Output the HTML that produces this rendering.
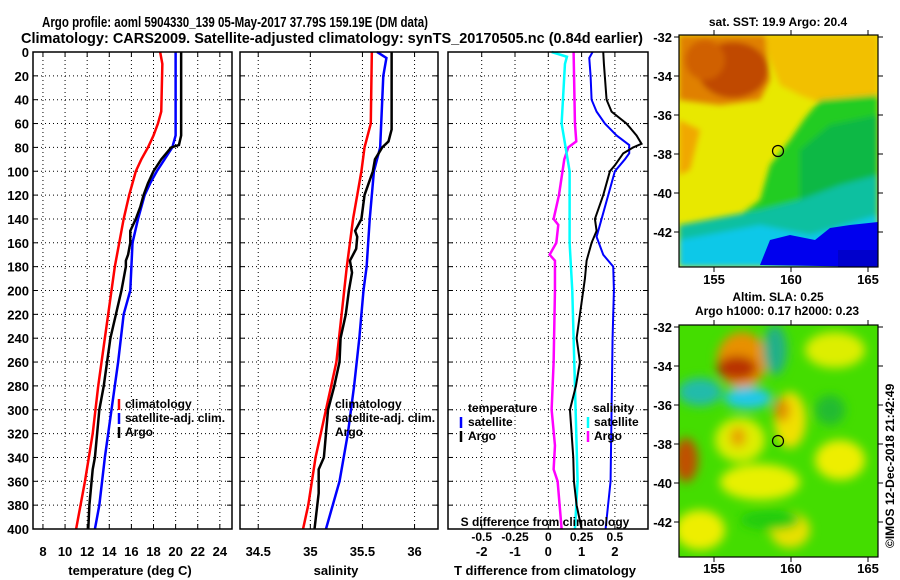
<!DOCTYPE html>
<html><head><meta charset="utf-8"><title>Argo profile</title>
<style>
html,body{margin:0;padding:0;background:#fff;}
svg{display:block;font-family:"Liberation Sans",sans-serif;}
text{font-weight:bold;}
</style></head>
<body>
<svg id="chart" width="900" height="580" viewBox="0 0 900 580" xmlns="http://www.w3.org/2000/svg">
<text x="42" y="27" font-size="15" textLength="386" lengthAdjust="spacingAndGlyphs">Argo profile: aoml 5904330_139 05-May-2017 37.79S 159.19E (DM data)</text>
<text x="21" y="43" font-size="15" textLength="622" lengthAdjust="spacingAndGlyphs">Climatology: CARS2009. Satellite-adjusted climatology: synTS_20170505.nc (0.84d earlier)</text>
<g id="plots"></g>
</svg>
<script>
// ---- data (depth in m) ----
const depthTC=[0,10,50,60,70,80,90,100,120,140,160,180,200,240,280,320,360,400];
const tempClim=[18.6,18.8,18.7,18.4,18.0,17.5,16.9,16.4,15.8,15.3,14.9,14.5,14.2,13.6,13.0,12.5,11.8,11.0];
const depthTS=[0,70,80,90,100,110,120,140,160,180,200,220,260,300,340,380,400];
const tempSat=[20.0,20.0,19.7,19.0,18.3,17.7,17.2,16.6,16.1,16.0,15.9,15.3,14.8,14.2,13.6,13.1,12.7];
const depthTA=[0,70,78,80,90,100,110,120,130,140,150,160,170,175,180,190,200,220,240,260,280,300,320,340,350,360,380,400];
const tempArgo=[20.5,20.5,20.3,19.6,18.7,18.0,17.5,17.1,16.8,16.4,15.9,15.9,15.7,15.5,15.5,15.3,15.1,14.6,14.1,13.8,13.5,13.1,12.9,12.7,12.5,12.4,12.2,12.1];
const depthSC=[0,60,80,100,140,180,220,260,300,340,380,400];
const salClim=[35.59,35.58,35.52,35.49,35.41,35.35,35.30,35.25,35.15,35.05,34.98,34.93];
const depthSS=[0,5,20,60,80,90,100,140,180,200,240,280,320,360,400];
const salSat=[35.64,35.73,35.70,35.68,35.67,35.64,35.61,35.57,35.54,35.51,35.47,35.42,35.36,35.28,35.15];
const depthSA=[0,65,75,80,90,100,120,140,150,155,165,175,185,200,220,240,260,280,300,320,340,350,370,400];
const salArgo=[35.78,35.78,35.75,35.69,35.62,35.60,35.52,35.49,35.43,35.45,35.44,35.38,35.40,35.37,35.34,35.29,35.28,35.23,35.17,35.15,35.13,35.08,35.08,35.04];
const depthDT=[0,5,20,40,50,60,70,78,85,90,100,110,120,140,155,170,180,200,240,300,360,400];
const tDiffSat=[1.33,1.23,1.27,1.30,1.45,1.7,2.05,2.43,2.43,2.3,2.0,1.9,1.8,1.6,1.45,1.65,1.95,1.97,1.93,1.9,1.87,1.72];
const depthDA=[0,10,40,50,60,70,77,80,85,95,100,110,120,140,150,160,175,190,200,220,240,260,280,300,320,340,360,380,400];
const tDiffArgo=[1.65,1.67,1.75,1.9,2.35,2.65,2.8,2.55,2.25,2.0,1.85,1.75,1.65,1.4,1.45,1.3,1.15,1.1,1.05,0.95,0.85,0.95,0.83,0.65,0.7,0.75,0.77,0.85,1.0];
const depthDSS=[0,4,10,40,60,80,100,120,160,200,240,280,320,360,400];
const sDiffSat=[0.025,0.14,0.125,0.11,0.10,0.13,0.16,0.16,0.16,0.18,0.19,0.2,0.21,0.22,0.2];
const depthDSA=[0,60,75,80,90,120,140,145,160,170,175,200,260,300,330,350,360,400];
const sDiffArgo=[0.19,0.2,0.21,0.15,0.12,0.08,0.04,0.075,0.06,0.01,0.05,0.05,0.04,0.025,0.05,0.04,0.07,0.10];
const depthTicks=[0,20,40,60,80,100,120,140,160,180,200,220,240,260,280,300,320,340,360,380,400];
const tempTicks=[8,10,12,14,16,18,20,22,24];
const salTicks=[34.5,35,35.5,36];
const tDiffTicks=[-2,-1,0,1,2];
const sDiffTicks=[-0.5,-0.25,0,0.25,0.5];
const latTicks=[-32,-34,-36,-38,-40,-42];
const lonTicks=[155,160,165];

const NS='http://www.w3.org/2000/svg';
const plots=document.getElementById('plots');
function mk(tag,attrs,parent){const e=document.createElementNS(NS,tag);for(const k in attrs)e.setAttribute(k,attrs[k]);(parent||plots).appendChild(e);return e;}
const Y0=52,Y1=529;
const yD=d=>Y0+d*(Y1-Y0)/400;
const xT=t=>33+(t-7.1)*(199/18);
const xS=s=>240+(s-34.325)*(198/1.9);
const xDT=t=>548.3+t*33.3;
const xDS=s=>548.3+s*133.2;

function panel(name,x0,x1){
  const g=mk('g',{});
  
  
  depthTicks.forEach((d,i)=>{if(i>0&&i<depthTicks.length-1){mk('line',{x1:x0,x2:x1,y1:yD(d),y2:yD(d),stroke:'#000','stroke-width':1,'stroke-dasharray':'1,3'},g);}
    mk('line',{x1:x0,x2:x0+5,y1:yD(d),y2:yD(d),stroke:'#000'},g);mk('line',{x1:x1-5,x2:x1,y1:yD(d),y2:yD(d),stroke:'#000'},g);});
  return g;
}
function vgrid(g,ticks,fx,labels,ylab){
  ticks.forEach(t=>{const x=fx(t);
    mk('line',{x1:x,x2:x,y1:Y0,y2:Y1,stroke:'#000','stroke-dasharray':'1,3'},g);
    mk('line',{x1:x,x2:x,y1:Y1-5,y2:Y1,stroke:'#000'},g);mk('line',{x1:x,x2:x,y1:Y0,y2:Y0+5,stroke:'#000'},g);
    if(labels){const tx=mk('text',{x:x,y:ylab,'font-size':13,'text-anchor':'middle'},g);tx.textContent=t;}
  });
}
function line(name,xs,ds,fx,color,w){
  const p=mk('polyline',{points:xs.map((v,i)=>fx(v)+','+yD(ds[i])).join(' '),fill:'none',stroke:color,'stroke-width':w});
  
  
}
function frame(x0,x1){mk('rect',{x:x0,y:Y0,width:x1-x0,height:Y1-Y0,fill:'none',stroke:'#000','stroke-width':1.5});}
function label(txt,x,y,size,anchor,name){const t=mk('text',{x:x,y:y,'font-size':size,'text-anchor':anchor||'start'});t.textContent=txt;
  
  
  return t;}

let g1=panel('temperature-panel',33,232);
vgrid(g1,tempTicks,xT,true,556);
depthTicks.forEach(d=>{const t=mk('text',{x:29,y:yD(d)+5,'font-size':13,'text-anchor':'end'},g1);t.textContent=d;});
line('temp-climatology-line',tempClim,depthTC,xT,'#f00',2.5);
line('temp-satellite-line',tempSat,depthTS,xT,'#00f',2.5);
line('temp-argo-line',tempArgo,depthTA,xT,'#000',2.5);
frame(33,232);
label('temperature (deg C)',130,575,13,'middle','x-axis-title-temperature');
[['#f00','climatology',408],['#00f','satellite-adj. clim.',422],['#000','Argo',436]].forEach(([c,t,y])=>{mk('line',{x1:119,x2:119,y1:y-9,y2:y+2,stroke:c,'stroke-width':2.5});label(t,125,y,12,'start','legend-entry-temp');});

let g2=panel('salinity-panel',240,438);
vgrid(g2,salTicks,xS,true,556);
line('sal-climatology-line',salClim,depthSC,xS,'#f00',2.5);
line('sal-satellite-line',salSat,depthSS,xS,'#00f',2.5);
line('sal-argo-line',salArgo,depthSA,xS,'#000',2.5);
frame(240,438);
label('salinity',336,575,13,'middle','x-axis-title-salinity');
[['climatology',408],['satellite-adj. clim.',422],['Argo',436]].forEach(([t,y])=>label(t,335,y,12,'start','legend-entry-sal'));

let g3=panel('difference-panel',448,648);
vgrid(g3,tDiffTicks,xDT,true,556);
sDiffTicks.forEach(s=>{const t=mk('text',{x:xDS(s),y:541,'font-size':12,'text-anchor':'middle'},g3);t.textContent=s;});
line('sdiff-argo-line',sDiffArgo,depthDSA,xDS,'#f0f',2.5);
line('sdiff-satellite-line',sDiffSat,depthDSS,xDS,'#0ff',2.5);
line('tdiff-satellite-line',tDiffSat,depthDT,xDT,'#00f',2);
line('tdiff-argo-line',tDiffArgo,depthDA,xDT,'#000',2);
frame(448,648);
label('S difference from climatology',545,526,12,'middle','s-diff-axis-title');
label('T difference from climatology',545,575,13,'middle','t-diff-axis-title');
label('temperature',468,412,12,'start','legend-title-temperature');
label('salinity',593,412,12,'start','legend-title-salinity');
[['#00f','satellite',426],['#000','Argo',440]].forEach(([c,t,y])=>{mk('line',{x1:461,x2:461,y1:y-9,y2:y+2,stroke:c,'stroke-width':2.5});label(t,468,y,12,'start','legend-entry-tdiff');});
[['#0ff','satellite',426],['#f0f','Argo',440]].forEach(([c,t,y])=>{mk('line',{x1:588,x2:588,y1:y-9,y2:y+2,stroke:c,'stroke-width':2.5});label(t,594,y,12,'start','legend-entry-sdiff');});
</script>

<svg style="position:absolute;left:0;top:0" width="900" height="580">
<defs>
<clipPath id="c1"><rect x="679" y="35" width="199" height="232"/></clipPath>
<clipPath id="c2"><rect x="679" y="325" width="199" height="232"/></clipPath>
<filter id="bl" x="-20%" y="-20%" width="140%" height="140%"><feGaussianBlur stdDeviation="5"/></filter>
<filter id="bl2"><feGaussianBlur stdDeviation="3"/></filter>
</defs>
<text x="778" y="26" font-size="12" text-anchor="middle" font-family="Liberation Sans" font-weight="bold">sat. SST: 19.9 Argo: 20.4</text>
<g clip-path="url(#c1)">
<rect x="679" y="35" width="199" height="232" fill="#e8e800"/>
<g filter="url(#bl2)">
<path d="M679 35 H878 V110 H840 L800 95 L780 85 L770 60 L765 40 Z" fill="#f2c000"/>
<path d="M679 35 H765 L770 80 L760 100 L720 105 L679 100 Z" fill="#e08000"/>
<ellipse cx="733" cy="70" rx="35" ry="28" fill="#c04800"/>
<ellipse cx="705" cy="60" rx="20" ry="20" fill="#d06000"/>
<path d="M679 120 L700 130 L690 170 L679 175 Z" fill="#f0a800"/>
<path d="M790 140 L805 118 L820 100 L878 95 V267 H679 V230 L740 215 L760 200 L770 165 Z" fill="#22cc22"/>
<path d="M800 150 L830 125 L878 115 V267 H800 Z" fill="#11b844"/>
<path d="M679 225 L760 210 L800 200 L840 185 L878 175 V267 H679 Z" fill="#11c0a0"/>
<path d="M679 240 L760 225 L810 235 L878 215 V267 H679 Z" fill="#10c8e8"/>
</g>
<path d="M760 265 L770 240 L790 235 L815 240 L830 228 L850 225 L878 222 V267 Z" fill="#0000ee"/>
<rect x="838" y="250" width="40" height="17" fill="#0000cc"/>
<circle cx="778" cy="151" r="5.5" fill="none" stroke="#000" stroke-width="1.2"/>
</g>
<rect x="679" y="35" width="199" height="232" fill="none" stroke="#000" stroke-width="1.2"/>
<text x="778" y="301" font-size="12" text-anchor="middle" font-family="Liberation Sans" font-weight="bold">Altim. SLA: 0.25</text>
<text x="777" y="315" font-size="12" text-anchor="middle" font-family="Liberation Sans" font-weight="bold">Argo h1000: 0.17 h2000: 0.23</text>
<g clip-path="url(#c2)">
<rect x="679" y="325" width="199" height="232" fill="#44dd00"/>
<g filter="url(#bl)">
<ellipse cx="742" cy="360" rx="25" ry="28" fill="#e89000"/>
<ellipse cx="737" cy="368" rx="20" ry="12" fill="#b83000"/>
<ellipse cx="700" cy="392" rx="22" ry="14" fill="#22bbaa"/>
<ellipse cx="748" cy="398" rx="24" ry="11" fill="#20c8e8"/>
<ellipse cx="775" cy="350" rx="12" ry="25" fill="#22b088"/>
<ellipse cx="790" cy="420" rx="16" ry="28" fill="#f0e000"/>
<ellipse cx="782" cy="410" rx="8" ry="12" fill="#e09000"/>
<ellipse cx="740" cy="440" rx="25" ry="22" fill="#ddee00"/>
<ellipse cx="738" cy="437" rx="8" ry="10" fill="#e8a000"/>
<ellipse cx="686" cy="460" rx="12" ry="22" fill="#c05000"/>
<ellipse cx="760" cy="482" rx="40" ry="18" fill="#e8f000"/>
<ellipse cx="835" cy="350" rx="30" ry="18" fill="#ddee00"/>
<ellipse cx="840" cy="460" rx="25" ry="20" fill="#eeee00"/>
<ellipse cx="700" cy="530" rx="25" ry="20" fill="#eeee00"/>
<ellipse cx="790" cy="530" rx="20" ry="18" fill="#e8e000"/>
<ellipse cx="830" cy="410" rx="15" ry="15" fill="#22bb33"/>
<ellipse cx="770" cy="520" rx="30" ry="10" fill="#22cc11"/>
</g>
<circle cx="778" cy="441" r="5.5" fill="none" stroke="#000" stroke-width="1.2"/>
</g>
<rect x="679" y="325" width="199" height="232" fill="none" stroke="#000" stroke-width="1.2"/>
<g id="mapaxes" font-family="Liberation Sans" font-weight="bold" font-size="13"></g>
<text transform="translate(894,548) rotate(-90)" font-size="12" font-family="Liberation Sans">©IMOS 12-Dec-2018 21:42:49</text>
</svg>
<script>
(function(){
const ax=document.getElementById('mapaxes');
const NS='http://www.w3.org/2000/svg';
function mk(tag,a){const e=document.createElementNS(NS,tag);for(const k in a)e.setAttribute(k,a[k]);ax.appendChild(e);return e;}
const xLon=l=>714+(l-155)*15.4;
[[35,37,284],[325,327,573]].forEach(([top,y32,ylab])=>{
  const yLat=v=>y32+(-32-v)*19.5;
  latTicks.forEach(v=>{const y=yLat(v);
    mk('line',{x1:674,x2:679,y1:y,y2:y,stroke:'#000'});mk('line',{x1:878,x2:883,y1:y,y2:y,stroke:'#000'});
    const t=mk('text',{x:672,y:y+5,'text-anchor':'end'});t.textContent=v;});
  lonTicks.forEach(v=>{const x=xLon(v);
    mk('line',{x1:x,x2:x,y1:top+232,y2:top+237,stroke:'#000'});mk('line',{x1:x,x2:x,y1:top-5,y2:top,stroke:'#000'});
    const t=mk('text',{x:x,y:ylab,'text-anchor':'middle'});t.textContent=v;});
});
})();
</script>
</body></html>
